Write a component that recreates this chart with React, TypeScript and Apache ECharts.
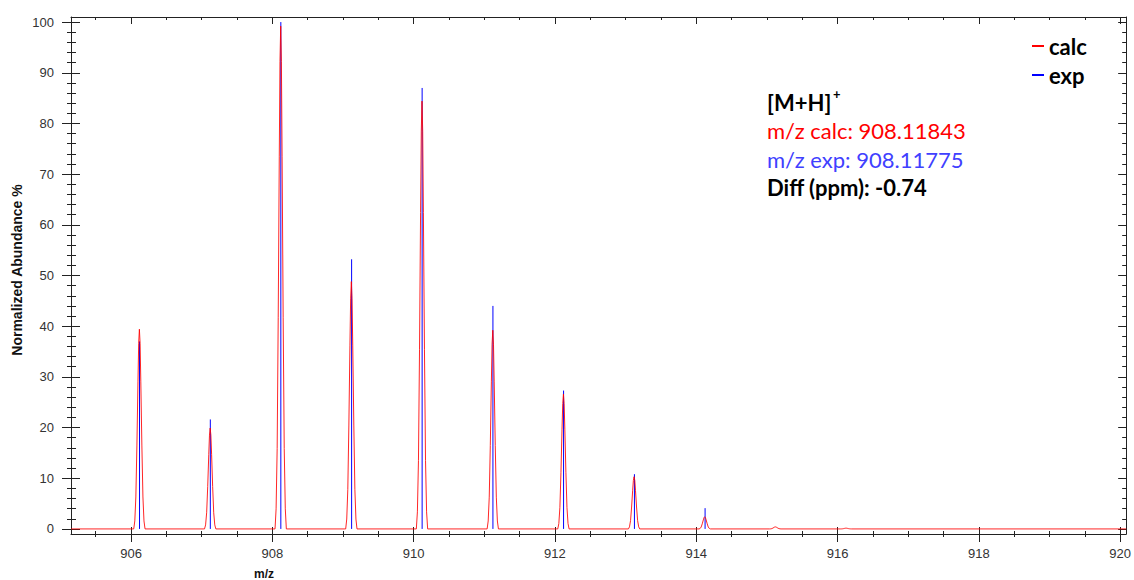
import React, { useEffect, useRef } from "react";
import * as echarts from "echarts";

// ---- data ----
const calcMz = [906.118, 907.12, 908.118, 909.118, 910.118, 911.12, 912.12, 913.12, 914.12, 915.12, 916.12];
const calcHeights = [39.4, 19.9, 99.2, 48.8, 84.4, 39.2, 26.6, 10.3, 2.4, 0.4, 0.15];
const expMz = [906.12, 907.122, 908.12, 909.122, 910.12, 911.122, 912.122, 913.125, 914.125];
const expHeights = [37.0, 21.6, 100, 53.2, 87.0, 44.0, 27.3, 10.8, 4.1];
// calc profile shape: offset from centre (m/z) and fraction of peak height
const profileOffsets = [-0.08, -0.065, -0.05, -0.035, -0.02, -0.01, 0, 0.01, 0.02, 0.035, 0.05, 0.065, 0.08];
const profileFractions = [0, 0.04, 0.16, 0.42, 0.74, 0.93, 1, 0.93, 0.74, 0.42, 0.16, 0.04, 0];

const xMin = 905.15;
const xMax = 920.085;
const yMin = -1;
const yMax = 101;
const xMajorTicks = [906, 908, 910, 912, 914, 916, 918, 920];
const xMinorTicks = [905.5, 906, 906.5, 907, 907.5, 908, 908.5, 909, 909.5, 910, 910.5, 911, 911.5, 912, 912.5, 913, 913.5, 914, 914.5, 915, 915.5, 916, 916.5, 917, 917.5, 918, 918.5, 919, 919.5, 920];
const yMajorTicks = [0, 10, 20, 30, 40, 50, 60, 70, 80, 90, 100];
const yMinorTicks = [0, 2, 4, 6, 8, 10, 12, 14, 16, 18, 20, 22, 24, 26, 28, 30, 32, 34, 36, 38, 40, 42, 44, 46, 48, 50, 52, 54, 56, 58, 60, 62, 64, 66, 68, 70, 72, 74, 76, 78, 80, 82, 84, 86, 88, 90, 92, 94, 96, 98, 100];

const legendNames = ["calc", "exp"];
const annotationTitle = "[M+H]";
const annotationCalc = "m/z calc: 908.11843";
const annotationExp = "m/z exp: 908.11775";
const annotationDiff = "Diff (ppm): -0.74";
const xName = "m/z";
const yName = "Normalized Abundance %";

const AXIS_COLOR = "#222";
const LABEL_FONT = '"Liberation Sans", Arial, sans-serif';
const NOTE_FONT = 'Lato, "Open Sans", sans-serif';

function buildCalcProfile(): number[][] {
  const pts: number[][] = [[xMin, 0]];
  calcMz.forEach((c, i) => {
    profileOffsets.forEach((o, j) => {
      pts.push([c + o, calcHeights[i] * profileFractions[j]]);
    });
  });
  pts.push([xMax, 0]);
  return pts;
}

function xAxisDef(position: string, ticks: number[], length: number, inside: boolean, opts: any = {}) {
  return {
    type: "value",
    gridIndex: 0,
    position,
    min: xMin,
    max: xMax,
    splitLine: { show: false },
    axisLine: { show: !!opts.line, onZero: false, lineStyle: { color: AXIS_COLOR, width: 1 } },
    axisTick: { show: true, customValues: ticks, length, inside, lineStyle: { color: AXIS_COLOR, width: 1 } },
    axisLabel: opts.labels
      ? { show: true, customValues: xMajorTicks, fontSize: 13, fontFamily: LABEL_FONT, color: "#333", margin: 13 }
      : { show: false },
  };
}

function yAxisDef(position: string, ticks: number[], length: number, inside: boolean, opts: any = {}) {
  return {
    type: "value",
    gridIndex: 0,
    position,
    min: yMin,
    max: yMax,
    splitLine: { show: false },
    axisLine: { show: !!opts.line, onZero: false, lineStyle: { color: AXIS_COLOR, width: 1 } },
    axisTick: { show: true, customValues: ticks, length, inside, lineStyle: { color: AXIS_COLOR, width: 1 } },
    axisLabel: opts.labels
      ? { show: true, customValues: yMajorTicks, fontSize: 13, fontFamily: LABEL_FONT, color: "#333", margin: 17 }
      : { show: false },
  };
}

export default function App() {
  const ref = useRef<HTMLDivElement>(null);

  useEffect(() => {
    if (!ref.current) return;
    const chart = echarts.init(ref.current, undefined, { renderer: "svg" });
    const option: any = {
      animation: false,
      backgroundColor: "#fff",
      grid: { left: 71, right: 6, top: 17, bottom: 46, containLabel: false },
      xAxis: [
        xAxisDef("bottom", xMajorTicks, 8, false, { line: true, labels: true }),
        xAxisDef("bottom", xMinorTicks, 3, false),
        xAxisDef("bottom", xMajorTicks, 7, true),
        xAxisDef("bottom", xMinorTicks, 3, true),
        xAxisDef("top", xMajorTicks, 7, true, { line: true }),
        xAxisDef("top", xMinorTicks, 3, true),
      ],
      yAxis: [
        yAxisDef("left", yMajorTicks, 9, false, { line: true, labels: true }),
        yAxisDef("left", yMinorTicks, 4, false),
        yAxisDef("left", yMajorTicks, 9, true),
        yAxisDef("left", yMinorTicks, 5, true),
        yAxisDef("right", yMajorTicks, 8, true, { line: true }),
        yAxisDef("right", yMinorTicks, 4, true),
      ],
      legend: {
        data: legendNames,
        orient: "vertical",
        left: 1032,
        top: 33,
        padding: 0,
        itemGap: 3,
        itemWidth: 12,
        itemHeight: 2,
        icon: "rect",
        selectedMode: false,
        textStyle: { fontSize: 22, fontWeight: "bold", fontFamily: NOTE_FONT, color: "#000", lineHeight: 26 },
      },
      series: [
        {
          name: legendNames[1],
          type: "custom",
          xAxisIndex: 0,
          yAxisIndex: 0,
          clip: true,
          itemStyle: { color: "#0000ff" },
          data: expMz.map((m, i) => [m, expHeights[i]]),
          encode: { x: 0, y: 1 },
          renderItem: (params: any, api: any) => {
            const x = api.value(0);
            const h = api.value(1);
            const p0 = api.coord([x, 0]);
            const p1 = api.coord([x, h]);
            return {
              type: "line",
              shape: { x1: p0[0], y1: p0[1], x2: p1[0], y2: p1[1] },
              style: { stroke: "#0000ff", lineWidth: 1 },
            };
          },
        },
        {
          name: legendNames[0],
          type: "line",
          xAxisIndex: 0,
          yAxisIndex: 0,
          showSymbol: false,
          symbol: "none",
          clip: true,
          color: "#ff0000",
          lineStyle: { color: "#ff0000", width: 1, opacity: 0.85 },
          data: buildCalcProfile(),
          z: 3,
        },
      ],
      graphic: [
        {
          type: "text",
          x: 17,
          y: 270,
          rotation: Math.PI / 2,
          style: {
            text: yName,
            font: `bold 14px ${LABEL_FONT}`,
            fill: "#111",
            textAlign: "center",
            textVerticalAlign: "middle",
          },
        },
        {
          type: "text",
          x: 264,
          y: 574,
          style: {
            text: xName,
            font: `bold 12px ${LABEL_FONT}`,
            fill: "#111",
            textAlign: "center",
            textVerticalAlign: "middle",
          },
        },
        {
          type: "text",
          x: 767,
          y: 102,
          style: { text: annotationTitle, font: `bold 22px ${NOTE_FONT}`, fill: "#000", textVerticalAlign: "middle" },
        },
        {
          type: "text",
          x: 833,
          y: 94,
          style: { text: "+", font: `bold 13px ${NOTE_FONT}`, fill: "#000", textVerticalAlign: "middle" },
        },
        {
          type: "text",
          x: 767,
          y: 130,
          style: { text: annotationCalc, font: `22px ${NOTE_FONT}`, fill: "#ff0000", textVerticalAlign: "middle" },
        },
        {
          type: "text",
          x: 767,
          y: 159,
          style: { text: annotationExp, font: `22px ${NOTE_FONT}`, fill: "#4040ff", textVerticalAlign: "middle" },
        },
        {
          type: "text",
          x: 767,
          y: 187,
          style: { text: annotationDiff, font: `bold 22px ${NOTE_FONT}`, fill: "#000", textVerticalAlign: "middle" },
        },
      ],
    };
    chart.setOption(option);
    return () => chart.dispose();
  }, []);

  return (
    <div
      ref={ref}
      style={{ position: "fixed", left: 0, top: 0, width: 1134, height: 580, background: "#fff" }}
    />
  );
}
